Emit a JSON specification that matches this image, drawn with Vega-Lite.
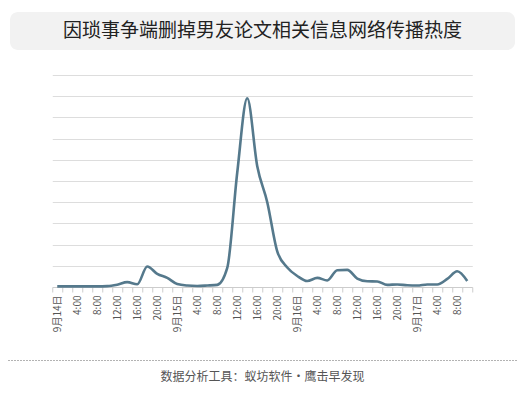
{
  "$schema": "https://vega.github.io/schema/vega-lite/v6.json",
  "padding": {"left": 8, "top": 12, "right": 8, "bottom": 4},
  "background": "#ffffff",
  "spacing": 25,
  "center": true,
  "config": {
    "font": "Noto Sans CJK SC",
    "view": {"stroke": null}
  },
  "vconcat": [
    {
      "width": 505,
      "height": 38,
      "view": {"fill": "#f2f2f2", "stroke": null, "cornerRadius": 8},
      "data": {"values": [{"title": "因琐事争端删掉男友论文相关信息网络传播热度"}]},
      "mark": {"type": "text", "fontSize": 19, "color": "#222222", "font": "Noto Sans CJK SC", "baseline": "middle", "align": "center"},
      "encoding": {"text": {"field": "title"}}
    },
    {
      "width": 420,
      "height": 212,
      "data": {"values": [
        {"h": 0, "v": 0.3}, {"h": 2, "v": 0.3}, {"h": 4, "v": 0.3}, {"h": 6, "v": 0.3},
        {"h": 8, "v": 0.3}, {"h": 10, "v": 0.4}, {"h": 12, "v": 1.1}, {"h": 14, "v": 2.3},
        {"h": 16, "v": 1.3}, {"h": 18, "v": 9.7}, {"h": 20, "v": 6.2}, {"h": 22, "v": 4.3},
        {"h": 24, "v": 1.4}, {"h": 26, "v": 0.7}, {"h": 28, "v": 0.5}, {"h": 30, "v": 0.7},
        {"h": 32, "v": 1.0}, {"h": 34, "v": 9.0}, {"h": 36, "v": 54}, {"h": 38, "v": 89},
        {"h": 40, "v": 57}, {"h": 42, "v": 40}, {"h": 44, "v": 16.8}, {"h": 46, "v": 9.2},
        {"h": 48, "v": 5.2}, {"h": 50, "v": 2.8}, {"h": 52, "v": 4.3}, {"h": 54, "v": 3.1},
        {"h": 56, "v": 7.9}, {"h": 58, "v": 8.1}, {"h": 60, "v": 4.0}, {"h": 62, "v": 2.7},
        {"h": 64, "v": 2.6}, {"h": 66, "v": 1.0}, {"h": 68, "v": 1.2}, {"h": 70, "v": 0.8},
        {"h": 72, "v": 0.7}, {"h": 74, "v": 1.2}, {"h": 76, "v": 1.2}, {"h": 78, "v": 3.8},
        {"h": 80, "v": 7.4}, {"h": 82, "v": 2.8}
      ]},
      "mark": {"type": "line", "color": "#55798c", "strokeWidth": 2.6, "interpolate": "monotone"},
      "encoding": {
        "x": {
          "field": "h", "type": "ordinal", "bandPosition": 0.5,
          "scale": {"type": "band", "paddingInner": 0, "paddingOuter": 0},
          "axis": {
            "title": null, "tickBand": "extent", "labelAngle": -90, "labelAlign": "right", "labelBaseline": "middle",
            "labelOverlap": false, "labelFontSize": 10, "labelColor": "#555555", "labelPadding": 3,
            "domainColor": "#cccccc", "tickColor": "#cccccc", "tickSize": 5, "grid": false, "minExtent": 48,
            "labelExpr": "datum.value % 24 == 0 ? '9月' + (14 + floor(datum.value / 24)) + '日' : (datum.value % 4 == 0 ? (datum.value % 24) + ':00' : '')"
          }
        },
        "y": {
          "field": "v", "type": "quantitative",
          "scale": {"domain": [0, 100], "nice": false},
          "axis": {"title": null, "labels": false, "ticks": false, "domain": false, "grid": true, "gridColor": "#dddddd", "gridWidth": 1, "values": [10, 20, 30, 40, 50, 60, 70, 80, 90, 100]}
        }
      }
    },
    {
      "width": 509,
      "height": 34,
      "data": {"values": [{"note": "数据分析工具：蚁坊软件·鹰击早发现"}]},
      "mark": {"type": "text", "fontSize": 12, "color": "#555555", "font": "Noto Sans CJK SC", "baseline": "middle", "align": "center"},
      "encoding": {
        "text": {"field": "note"},
        "x": {"datum": 0.5, "type": "quantitative", "scale": {"domain": [0, 1]},
          "axis": {"orient": "top", "title": null, "labels": false, "ticks": false, "grid": false, "domain": true, "domainColor": "#666666", "domainDash": [1, 2], "domainWidth": 1}}
      }
    }
  ]
}
